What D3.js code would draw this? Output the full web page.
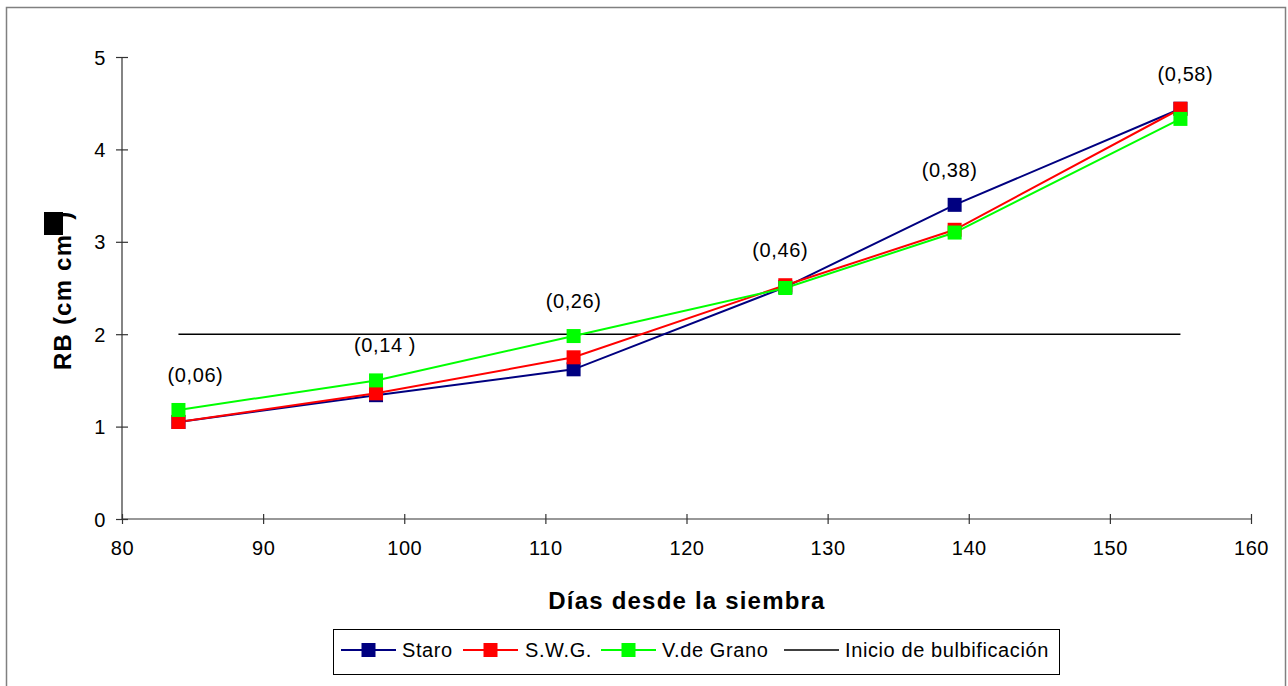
<!DOCTYPE html>
<html>
<head>
<meta charset="utf-8">
<script src="https://cdn.jsdelivr.net/npm/d3@7"></script>
<style>
  html, body { margin: 0; padding: 0; background: #fff; }
  svg { display: block; font-family: "Liberation Sans", Arial, sans-serif; }
</style>
</head>
<body>
<svg id="chart" width="1288" height="686"></svg>
<script>
// ---- data ----
const days = [84, 98, 112, 127, 139, 155];
const staro = [1.05, 1.34, 1.62, 2.51, 3.40, 4.44];
const swg = [1.05, 1.36, 1.75, 2.53, 3.13, 4.44];
const vGrano = [1.18, 1.50, 1.98, 2.50, 3.10, 4.33];
const ratioLabels = ["(0,06)", "(0,14 )", "(0,26)", "(0,46)", "(0,38)", "(0,58)"];
const bulbStart = [84, 155];
const bulbValue = 2;
const xTicks = [80, 90, 100, 110, 120, 130, 140, 150, 160];
const yTicks = [0, 1, 2, 3, 4, 5];
const seriesNames = ["Staro", "S.W.G.", "V.de Grano"];
const lineName = "Inicio de bulbificación";
const xTitle = "Días desde la siembra";

// ---- layout ----
const svg = d3.select("#chart");
const x = d3.scaleLinear().domain([80, 160]).range([122, 1251]);
const y = d3.scaleLinear().domain([0, 5]).range([519, 57]);
const colors = ["#000080", "#ff0000", "#00ff00"];
const seriesData = [staro, swg, vGrano];
const fs = "20px", ls = "0.6px";

// outer frame
svg.append("rect").attr("x", 6.5).attr("y", 7.5).attr("width", 1279).attr("height", 700)
  .attr("fill", "none").attr("stroke", "#808080").attr("stroke-width", 1.5);

// axes
const axisColor = "#333";
const yAxis = svg.append("g").attr("transform", `translate(${x(80)},0)`)
  .call(d3.axisLeft(y).tickValues(yTicks).tickSize(6).tickPadding(10).tickFormat(d3.format("d")));
const xAxis = svg.append("g").attr("transform", `translate(0,${y(0)})`)
  .call(d3.axisBottom(x).tickValues(xTicks).tickSize(5).tickPadding(17).tickFormat(d3.format("d")));
[yAxis, xAxis].forEach(g => {
  g.selectAll(".tick line").attr("stroke", axisColor).attr("stroke-width", 1.2);
  g.selectAll(".tick text").attr("fill", "#000").style("font-size", fs)
    .style("letter-spacing", ls).style("font-family", "Liberation Sans, Arial, sans-serif");
});
yAxis.select(".domain").remove();
xAxis.select(".domain").remove();
yAxis.append("line").attr("x1", 0).attr("x2", 0).attr("y1", y(5)).attr("y2", y(0))
  .attr("stroke", axisColor).attr("stroke-width", 1.2);
xAxis.append("line").attr("x1", x(80)).attr("x2", x(160)).attr("y1", 0).attr("y2", 0)
  .attr("stroke", axisColor).attr("stroke-width", 1.2);
yAxis.selectAll(".tick line").attr("x1", 6).attr("x2", -6);
xAxis.selectAll(".tick line").attr("y1", -5).attr("y2", 5);
yAxis.selectAll(".tick text").attr("dy", "0.35em").attr("x", -16);

// horizontal bulbification line
svg.append("line")
  .attr("x1", x(bulbStart[0])).attr("x2", x(bulbStart[1]))
  .attr("y1", y(bulbValue)).attr("y2", y(bulbValue))
  .attr("stroke", "#000").attr("stroke-width", 1.5);

// series lines
const line = d3.line().x((d, i) => x(days[i])).y(d => y(d));
seriesData.forEach((vals, k) => {
  svg.append("path").datum(vals).attr("d", line)
    .attr("fill", "none").attr("stroke", colors[k]).attr("stroke-width", 2);
});
// markers (drawn after lines)
const ms = 14;
seriesData.forEach((vals, k) => {
  svg.append("g").selectAll("rect").data(vals).join("rect")
    .attr("x", (d, i) => x(days[i]) - ms / 2)
    .attr("y", d => y(d) - ms / 2)
    .attr("width", ms).attr("height", ms)
    .attr("fill", colors[k]);
});

// ratio labels above points
const labelDx = [17, 9, 0, -5, -5, 5];
svg.append("g").selectAll("text").data(ratioLabels).join("text")
  .attr("x", (d, i) => x(days[i]) + labelDx[i])
  .attr("y", (d, i) => y(Math.max(staro[i], swg[i], vGrano[i])) - 28)
  .attr("text-anchor", "middle")
  .style("font-size", fs).style("letter-spacing", ls)
  .text(d => d);

// x title
svg.append("text").attr("x", 687).attr("y", 609).attr("text-anchor", "middle")
  .style("font-size", "24px").style("font-weight", "bold").style("letter-spacing", "1.2px")
  .text(xTitle);

// y title
const yt = svg.append("text").attr("transform", "translate(71,370) rotate(-90)")
  .style("font-size", "24px").style("font-weight", "bold").style("letter-spacing", "1.2px");
yt.append("tspan").text("RB (cm cm");
yt.append("tspan").attr("dx", 14).text(")");
svg.append("rect").attr("x", 44).attr("y", 212).attr("width", 19).attr("height", 23).attr("fill", "#000");

// legend
const lg = svg.append("g");
lg.append("rect").attr("x", 333.5).attr("y", 629.5).attr("width", 726).attr("height", 45)
  .attr("fill", "#fff").attr("stroke", "#000").attr("stroke-width", 1);
const legendItems = [
  { name: seriesNames[0], color: colors[0], x0: 341, marker: true, tx: 402 },
  { name: seriesNames[1], color: colors[1], x0: 463, marker: true, tx: 525 },
  { name: seriesNames[2], color: colors[2], x0: 601, marker: true, tx: 662 },
  { name: lineName, color: "#000", x0: 784, marker: false, tx: 845 }
];
const ly = 650;
legendItems.forEach(it => {
  lg.append("line").attr("x1", it.x0).attr("x2", it.x0 + 55).attr("y1", ly).attr("y2", ly)
    .attr("stroke", it.color).attr("stroke-width", it.marker ? 2 : 1.5);
  if (it.marker) {
    lg.append("rect").attr("x", it.x0 + 27.5 - 7).attr("y", ly - 7).attr("width", 14).attr("height", 14)
      .attr("fill", it.color);
  }
  lg.append("text").attr("x", it.tx).attr("y", ly + 7)
    .style("font-size", fs).style("letter-spacing", ls).text(it.name);
});
</script>
</body>
</html>
